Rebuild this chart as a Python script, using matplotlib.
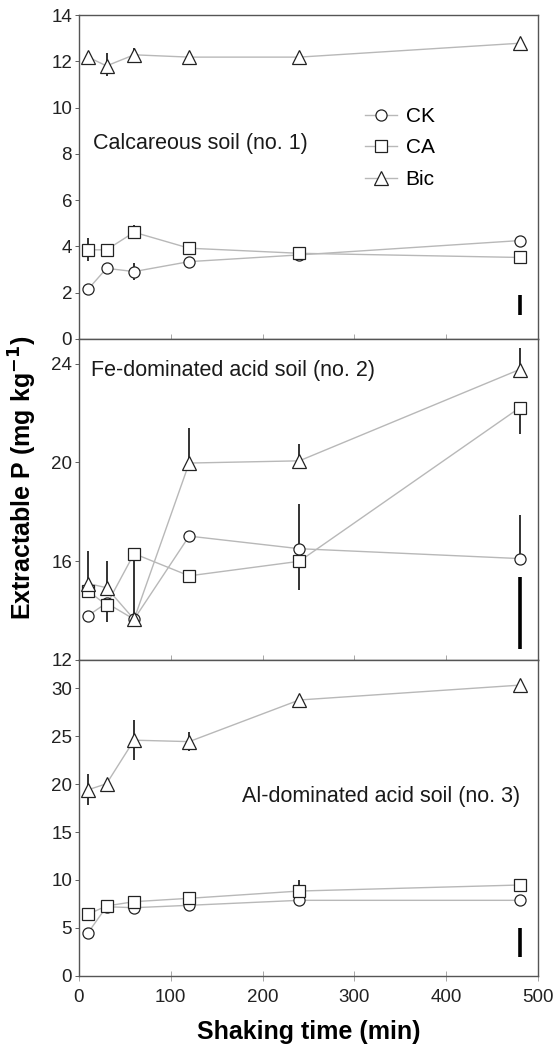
import matplotlib
matplotlib.use('Agg')
import matplotlib.pyplot as plt

plt.rcParams['font.family'] = ['Liberation Sans', 'DejaVu Sans']

time = [10, 30, 60, 120, 240, 480]
series = ['CK', 'CA', 'Bic']
markers = {'CK': 'o', 'CA': 's', 'Bic': '^'}
msize = {'CK': 8, 'CA': 9, 'Bic': 9.5}

# panel 1: calcareous soil
p1_ck = [2.15, 3.05, 2.91, 3.34, 3.63, 4.25]
p1_ck_lo = [0, 0, 0.35, 0, 0, 0]
p1_ck_hi = [0, 0, 0.35, 0, 0, 0]
p1_ca = [3.85, 3.85, 4.61, 3.92, 3.70, 3.52]
p1_ca_lo = [0.5, 0, 0.3, 0, 0, 0]
p1_ca_hi = [0.5, 0, 0.3, 0, 0, 0]
p1_bic = [12.18, 11.80, 12.28, 12.18, 12.18, 12.78]
p1_bic_lo = [0, 0.45, 0.3, 0.2, 0, 0]
p1_bic_hi = [0, 0.55, 0.3, 0.2, 0, 0]
p1_lsd = (1.05, 1.9)

# panel 2: Fe-dominated acid soil
p2_ck = [13.79, 14.3, 13.64, 17.01, 16.5, 16.1]
p2_ck_lo = [0, 0, 0, 0, 0, 0]
p2_ck_hi = [0, 0, 0, 0, 1.8, 1.75]
p2_ca = [14.78, 14.22, 16.30, 15.40, 15.99, 22.21]
p2_ca_lo = [0, 0.67, 2.7, 0.1, 1.17, 1.07]
p2_ca_hi = [0, 0, 0, 0, 0, 0]
p2_bic = [15.09, 14.92, 13.64, 19.97, 20.06, 23.76]
p2_bic_lo = [0, 0, 0, 0, 0, 0]
p2_bic_hi = [1.3, 1.08, 0, 1.43, 0.7, 0.87]
p2_lsd = (12.43, 15.36)

# panel 3: Al-dominated acid soil
p3_ck = [4.5, 7.2, 7.1, 7.35, 7.87, 7.87]
p3_ck_lo = [0, 0, 0, 0, 0, 0]
p3_ck_hi = [0, 0, 0, 0, 0, 0]
p3_ca = [6.42, 7.28, 7.73, 8.08, 8.84, 9.47]
p3_ca_lo = [0, 0, 0, 0, 0, 0]
p3_ca_hi = [0, 0, 0, 0, 1.2, 0]
p3_bic = [19.42, 20.05, 24.6, 24.45, 28.8, 30.35]
p3_bic_lo = [1.6, 0, 2.1, 1.0, 0, 0]
p3_bic_hi = [1.6, 0, 2.1, 1.0, 0, 0]
p3_lsd = (1.9, 4.93)

panels = [
    {'data': {'CK': (p1_ck, p1_ck_lo, p1_ck_hi), 'CA': (p1_ca, p1_ca_lo, p1_ca_hi),
              'Bic': (p1_bic, p1_bic_lo, p1_bic_hi)},
     'lsd': p1_lsd, 'ylim': (0, 14), 'yticks': [0, 2, 4, 6, 8, 10, 12, 14],
     'label': 'Calcareous soil (no. 1)', 'lx': 15.5, 'ly': 8.45, 'ha': 'left'},
    {'data': {'CK': (p2_ck, p2_ck_lo, p2_ck_hi), 'CA': (p2_ca, p2_ca_lo, p2_ca_hi),
              'Bic': (p2_bic, p2_bic_lo, p2_bic_hi)},
     'lsd': p2_lsd, 'ylim': (12, 25), 'yticks': [12, 16, 20, 24],
     'label': 'Fe-dominated acid soil (no. 2)', 'lx': 13.5, 'ly': 23.7, 'ha': 'left'},
    {'data': {'CK': (p3_ck, p3_ck_lo, p3_ck_hi), 'CA': (p3_ca, p3_ca_lo, p3_ca_hi),
              'Bic': (p3_bic, p3_bic_lo, p3_bic_hi)},
     'lsd': p3_lsd, 'ylim': (0, 33), 'yticks': [0, 5, 10, 15, 20, 25, 30],
     'label': 'Al-dominated acid soil (no. 3)', 'lx': 481, 'ly': 18.7, 'ha': 'right'},
]

fig = plt.figure(figsize=(5.57, 10.5), dpi=100)
gs = fig.add_gridspec(3, 1, height_ratios=[324, 321, 316], hspace=0,
                      left=0.1418, right=0.9659, top=0.9857, bottom=0.0708)
axes = [fig.add_subplot(gs[i]) for i in range(3)]

for ax, p in zip(axes, panels):
    for s in series:
        vals, lo, hi = p['data'][s]
        ax.plot(time, vals, color='#b8b8b8', linewidth=1.0, zorder=1)
        ax.errorbar(time, vals, yerr=[lo, hi], fmt='none', ecolor='#111111',
                    elinewidth=1.2, capsize=0, zorder=2)
        ax.plot(time, vals, linestyle='none', marker=markers[s], markersize=msize[s],
                markerfacecolor='white', markeredgecolor='#222222', markeredgewidth=0.9,
                zorder=3)
    ax.vlines(time[-1], p['lsd'][0], p['lsd'][1], color='black', linewidth=2.6, zorder=4)
    ax.set_xlim(0, 500)
    ax.set_ylim(*p['ylim'])
    ax.set_yticks(p['yticks'])
    ax.set_xticks([0, 100, 200, 300, 400, 500])
    ax.tick_params(axis='y', direction='out', length=3, width=0.6, labelsize=13.5,
                   colors='#444444', labelcolor='#222222', pad=2)
    ax.tick_params(axis='x', direction='inout', length=7, width=0.6, labelsize=13.5,
                   colors='#999999', labelcolor='#222222', pad=6)
    for sp in ax.spines.values():
        sp.set_color('#555555')
        sp.set_linewidth(1.0)
    ax.text(p['lx'], p['ly'], p['label'], ha=p['ha'], va='center', fontsize=15.5,
            color='#1a1a1a')

axes[0].tick_params(axis='x', labelbottom=False)
axes[1].tick_params(axis='x', labelbottom=False)

# legend entries: grey line with the open marker in the middle
handles = []
for s in series:
    h, = axes[0].plot([], [], color='#b8b8b8', linewidth=1.0, marker=markers[s],
                      markersize=msize[s], markerfacecolor='white',
                      markeredgecolor='#222222', markeredgewidth=0.9)
    handles.append(h)
axes[0].legend(handles, series, loc='upper left', bbox_to_anchor=(0.623, 0.716),
               frameon=False, fontsize=15, handlelength=1.55, handletextpad=0.4,
               labelspacing=0.6, borderpad=0, borderaxespad=0)

axes[2].set_xlabel('Shaking time (min)', fontsize=18, fontweight='bold', labelpad=10)
fig.text(0.042, 0.545, 'Extractable P (mg kg$^{\\mathbf{-1}}$)', rotation=90, ha='center',
         va='center', fontsize=18, fontweight='bold')

fig.savefig('out.png', dpi=100)
